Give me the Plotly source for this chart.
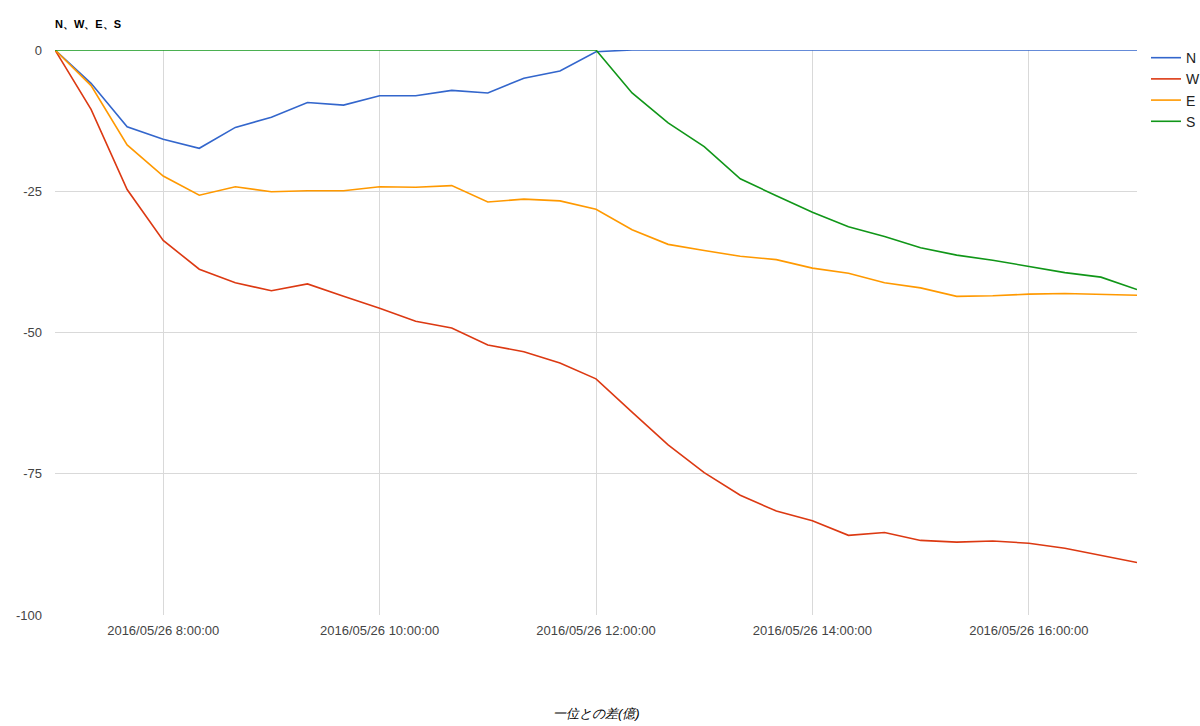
import plotly.graph_objects as go
import pandas as pd

times = pd.date_range("2016-05-26 07:00:00", "2016-05-26 17:00:00", freq="20min")

N = [0, -5.9, -13.6, -15.8, -17.4, -13.7, -11.9, -9.3, -9.75, -8.1, -8.1, -7.15, -7.6, -5.0, -3.7, -0.3,
     0, 0, 0, 0, 0, 0, 0, 0, 0, 0, 0, 0, 0, 0, 0]
W = [0, -10.5, -24.7, -33.7, -38.8, -41.2, -42.6, -41.4, -43.6, -45.7, -48.0, -49.2, -52.2, -53.4, -55.4, -58.2,
     -64.1, -69.9, -74.8, -78.8, -81.6, -83.3, -85.9, -85.4, -86.8, -87.1, -86.9, -87.3, -88.2, -89.4, -90.7]
E = [0, -6.3, -16.8, -22.3, -25.7, -24.2, -25.1, -24.9, -24.9, -24.2, -24.3, -24.0, -26.9, -26.4, -26.7, -28.2,
     -31.8, -34.4, -35.5, -36.5, -37.1, -38.6, -39.5, -41.2, -42.1, -43.6, -43.5, -43.2, -43.1, -43.3, -43.4]
S = [0, 0, 0, 0, 0, 0, 0, 0, 0, 0, 0, 0, 0, 0, 0, 0,
     -7.6, -12.9, -17.1, -22.8, -25.8, -28.7, -31.3, -33.0, -35.0, -36.3, -37.2, -38.3, -39.4, -40.2, -42.4]

series_names = ["N", "W", "E", "S"]
series_values = [N, W, E, S]
colors = ["#3366cc", "#dc3912", "#ff9900", "#109618"]

x_tickvals = pd.to_datetime(["2016-05-26 08:00:00", "2016-05-26 10:00:00", "2016-05-26 12:00:00",
                             "2016-05-26 14:00:00", "2016-05-26 16:00:00"])
y_tickvals = [0, -25, -50, -75, -100]
y_ticktext = ["0", "-25", "-50", "-75", "-100"]

fig = go.Figure()
for name, vals, col in zip(series_names, series_values, colors):
    fig.add_trace(go.Scatter(x=times, y=vals, mode="lines", name=name,
                             line=dict(color=col, width=1.6)))

fig.update_layout(
    width=1200, height=726,
    margin=dict(l=55, r=63, t=50, b=111, autoexpand=False),
    paper_bgcolor="white", plot_bgcolor="white",
    font=dict(family="Arial, Liberation Sans, sans-serif", size=13, color="#444444"),
    title=dict(text="<b>N、W、E、S</b>", x=55/1200, xanchor="left", y=1-24/726, yanchor="middle",
               font=dict(size=11, color="#000000")),
    legend=dict(x=1.0083, xanchor="left", y=1.014, yanchor="top", font=dict(size=14, color="#222222"),
                tracegroupgap=0, itemwidth=30, bgcolor="rgba(0,0,0,0)"),
    showlegend=True,
)
fig.update_xaxes(
    range=[times[0], times[-1]], tickvals=x_tickvals, tickformat="%Y/%m/%d %-H:%M:%S",
    showgrid=True, gridcolor="#d9d9d9", gridwidth=1, zeroline=False, showline=False,
    ticks="", ticklabelstandoff=6, tickfont=dict(size=13, color="#444444"),
)
fig.update_yaxes(
    range=[-100, 0], tickvals=y_tickvals, ticktext=y_ticktext, showgrid=True, gridcolor="#d9d9d9", gridwidth=1,
    zeroline=False, showline=False, ticks="", ticklabelstandoff=12,
    tickfont=dict(size=13, color="#444444"),
)
fig.add_annotation(text="<i>一位との差(億)</i>", xref="paper", yref="paper", x=0.5, y=-98/565,
                   xanchor="center", yanchor="middle", showarrow=False,
                   font=dict(size=13, color="#000000"))

fig.write_html("out.html")
